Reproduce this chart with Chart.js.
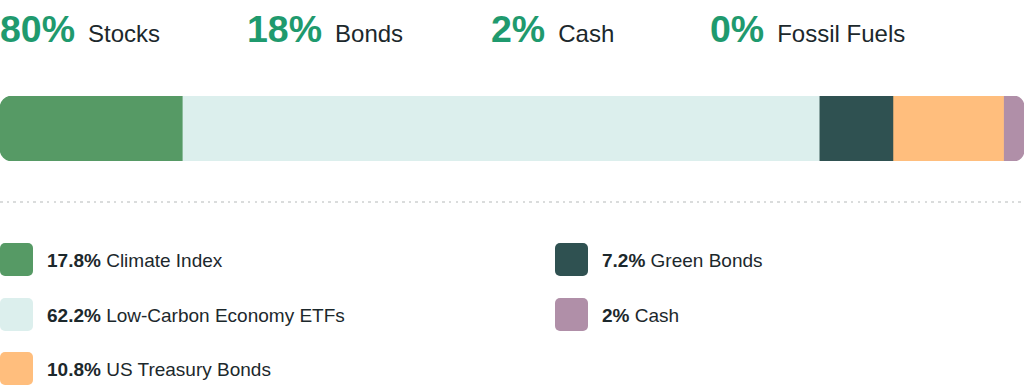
<!DOCTYPE html>
<html>
<head>
<meta charset="utf-8">
<script src="https://cdn.jsdelivr.net/npm/chart.js@4.4.0/dist/chart.umd.min.js"></script>
<style>
  html, body { margin:0; padding:0; background:#fff; width:1024px; height:386px; overflow:hidden; }
  body { position:relative; font-family:"Liberation Sans", Arial, Helvetica, sans-serif; color:#1c282c; }
  .head { position:absolute; top:7px; display:flex; align-items:baseline; white-space:nowrap; }
  .head .num { font-size:37.5px; font-weight:bold; color:#1f9a6e; line-height:44px; }
  .head .lab { font-size:24px; margin-left:13px; line-height:44px; }
  #barWrap { position:absolute; left:0; top:96px; width:1024px; height:65px; }
  .divider { position:absolute; left:0; top:201px; width:1024px; height:2px;
    background:repeating-linear-gradient(to right, #dadcdc 0 2.6px, transparent 2.6px 6.7px); }
  .leg { position:absolute; display:flex; align-items:center; height:33px; white-space:nowrap; }
  .leg .sw { width:33px; height:33px; border-radius:5px; margin-right:14px; }
  .leg .txt { font-size:19px; line-height:33px; position:relative; top:1px; }
  .leg .txt b { font-weight:bold; }
</style>
</head>
<body>
<div id="heads"></div>
<div id="barWrap"><canvas id="c" width="1024" height="65"></canvas></div>
<div class="divider"></div>
<div id="legend"></div>
<script>
// Headline summary
const headValues = [80, 18, 2, 0];
const headLabels = ["Stocks", "Bonds", "Cash", "Fossil Fuels"];

// Allocation segments (bar order)
const categories = ["Climate Index", "Low-Carbon Economy ETFs", "Green Bonds", "US Treasury Bonds", "Cash"];
const values = [17.8, 62.2, 7.2, 10.8, 2];
const colors = ["#569a65", "#dcefed", "#2f5151", "#ffbe7d", "#b08fa8"];

// Legend arrangement (indices into categories), column-major
const legendOrder = [0, 1, 3, 2, 4];

// headline
const headLeft = [0, 247, 491, 710];
const heads = document.getElementById('heads');
headValues.forEach((v, i) => {
  const d = document.createElement('div');
  d.className = 'head';
  d.style.left = headLeft[i] + 'px';
  d.innerHTML = '<span class="num">' + v + '%</span><span class="lab">' + headLabels[i] + '</span>';
  heads.appendChild(d);
});

// legend
const legend = document.getElementById('legend');
const colX = [0, 555];
const rowY = [243, 298, 352];
legendOrder.forEach((idx, k) => {
  const col = Math.floor(k / 3), row = k % 3;
  const d = document.createElement('div');
  d.className = 'leg';
  d.style.left = colX[col] + 'px';
  d.style.top = rowY[row] + 'px';
  d.innerHTML = '<span class="sw" style="background:' + colors[idx] + '"></span>' +
    '<span class="txt"><b>' + values[idx] + '%</b> ' + categories[idx] + '</span>';
  legend.appendChild(d);
});

// bar
const last = values.length - 1;
const datasets = values.map((v, i) => ({
  label: categories[i],
  data: [v],
  backgroundColor: colors[i],
  borderWidth: 0,
  borderSkipped: false,
  borderRadius: i === 0 ? {topLeft: 12, bottomLeft: 12, topRight: 0, bottomRight: 0}
             : i === last ? {topLeft: 0, bottomLeft: 0, topRight: 12, bottomRight: 12}
             : 0,
  barPercentage: 1,
  categoryPercentage: 1
}));

new Chart(document.getElementById('c'), {
  type: 'bar',
  data: { labels: ['Allocation'], datasets },
  options: {
    indexAxis: 'y',
    responsive: false,
    animation: false,
    layout: { padding: 0 },
    plugins: { legend: { display: false }, tooltip: { enabled: false } },
    scales: {
      x: { stacked: true, min: 0, max: 100, display: false },
      y: { stacked: true, display: false }
    }
  }
});
</script>
</body>
</html>
